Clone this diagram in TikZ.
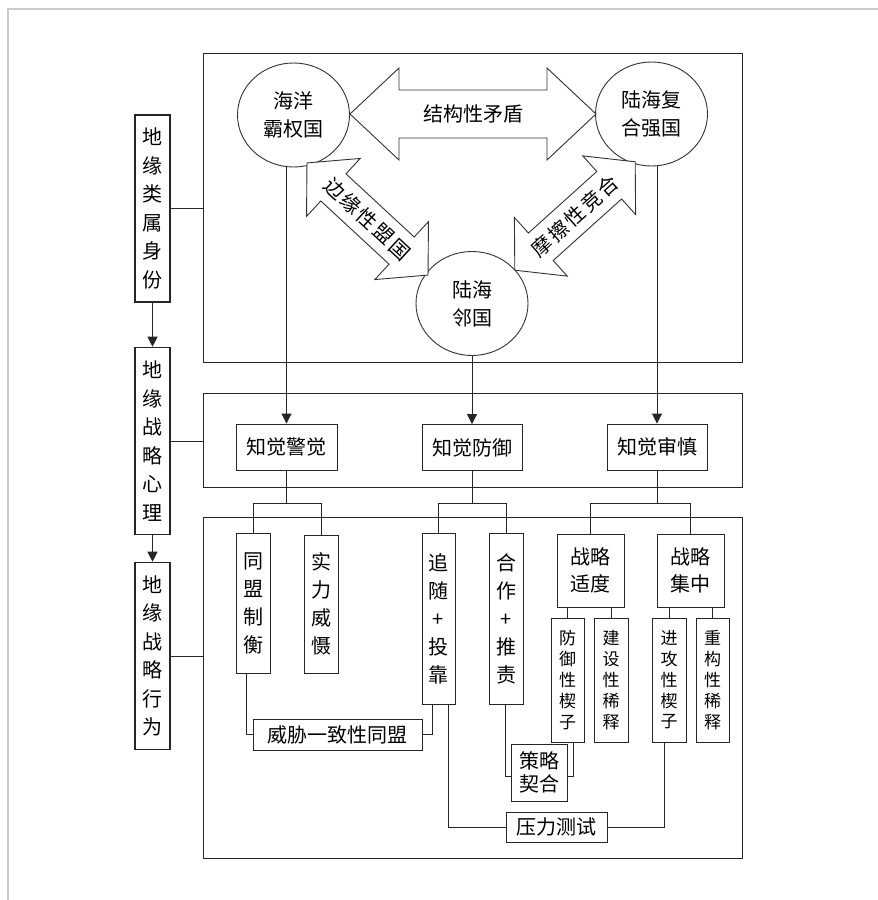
\documentclass[tikz,border=0pt]{standalone}
\usepackage{fontspec}
\setmainfont{Noto Sans CJK SC}
\usetikzlibrary{arrows.meta,shapes.geometric}
\newcommand\dblarr[9]{%
  \begin{scope}[shift={(#1,#2)},rotate=#3]
    \draw[arrshape] (-#4/2,0) -- (-#4/2+#7,#5/2) -- (-#4/2+#7,#6/2) -- (#4/2-#7,#6/2) -- (#4/2-#7,#5/2) -- (#4/2,0) -- (#4/2-#7,-#5/2) -- (#4/2-#7,-#6/2) -- (-#4/2+#7,-#6/2) -- (-#4/2+#7,-#5/2) -- cycle;
    \node[rotate=#3] (#9) at (0,0) {#8};
  \end{scope}}
\begin{document}
\begin{tikzpicture}[x=1pt,y=-1pt,
  line width=0.9pt,
  every node/.style={font=\fontsize{20}{28}\selectfont, inner sep=0pt, align=center},
  box/.style={draw=black!85, fill=white, rectangle},
  lbox/.style={box, line width=1.6pt, minimum width=35pt, minimum height=187pt, font=\fontsize{20}{28.5}\selectfont},
  circ/.style={ellipse, draw=black!80, fill=white, minimum width=112pt, minimum height=104pt},
  arrshape/.style={draw=black!80, fill=white, line join=miter},
  conn/.style={draw=black!85},
  arr/.style={conn, -{Triangle[width=10pt,length=10pt]}},
  small/.style={font=\fontsize{17}{20.8}\selectfont}
]
\useasboundingbox (0,0) rectangle (878,900);
\fill[white] (0,0) rectangle (878,900);
\draw[gray!40, line width=2pt] (7.5,900) -- (7.5,8.5) -- (878,8.5);

% containers
\node[box, minimum width=539pt, minimum height=309pt] (topbox) at (472.5,207.5) {};
\node[box, minimum width=539pt, minimum height=94pt] (midbox) at (472.5,440) {};
\node[box, minimum width=539pt, minimum height=341pt] (lowbox) at (472.5,687.5) {};

% left column
\node[lbox] (l1) at (152.5,208.5) {地\\缘\\类\\属\\身\\份};
\node[lbox] (l2) at (152.5,441) {地\\缘\\战\\略\\心\\理};
\node[lbox] (l3) at (152.5,656) {地\\缘\\战\\略\\行\\为};
\draw[arr] (l1.south) -- (l2.north);
\draw[arr] (l2.south) -- (l3.north);
\draw[conn] (l1.east) -- (l1.east -| topbox.west);
\draw[conn] (l2.east) -- (l2.east -| midbox.west);
\draw[conn] (l3.east) -- (l3.east -| lowbox.west);

% top: states
\node[circ] (sea) at (293.5,115) {海洋\\霸权国};
\node[circ] (land) at (651.5,114) {陆海复\\合强国};
\node[circ] (nb) at (472,303.5) {陆海\\邻国};
\dblarr{473}{114}{0}{246}{92}{48}{49}{结构性矛盾}{conflict}
\dblarr{367.5}{219}{-42.8}{165}{79}{37}{36}{\addfontfeature{LetterSpace=12}边缘性盟国}{margin}
\dblarr{575}{216}{42}{162}{79}{37}{35}{\addfontfeature{LetterSpace=12}摩擦性竞合}{friction}

% middle: perception
\node[box, minimum width=101pt, minimum height=46pt] (kj) at (286.5,447) {知觉警觉};
\node[box, minimum width=100pt, minimum height=46pt] (kf) at (472,447.5) {知觉防御};
\node[box, minimum width=100pt, minimum height=46pt] (ks) at (657,447) {知觉审慎};
\draw[arr] (sea.south -| kj.north) -- (kj.north);
\draw[arr] (nb.south) -- (kf.north);
\draw[arr] (land.south -| ks.north) -- (ks.north);

% lower: behaviour
\node[box, minimum width=34pt, minimum height=140pt] (tm) at (253,603) {同\\盟\\制\\衡};
\node[box, minimum width=34pt, minimum height=138pt] (sl) at (321,604) {实\\力\\威\\慑};
\node[box, minimum width=33pt, minimum height=171pt] (zs) at (438.5,618.5) {追\\随\\+\\投\\靠};
\node[box, minimum width=34pt, minimum height=171pt] (hz) at (506,618.5) {合\\作\\+\\推\\责};
\node[box, minimum width=67pt, minimum height=73pt, font=\fontsize{20}{27}\selectfont] (sd) at (590.5,570.5) {战略\\适度};
\node[box, minimum width=67pt, minimum height=73pt, font=\fontsize{20}{27}\selectfont] (jz) at (690.5,570.5) {战略\\集中};
\node[box, small, minimum width=33pt, minimum height=124pt] (fy) at (567.5,680) {防\\御\\性\\楔\\子};
\node[box, small, minimum width=34pt, minimum height=124pt] (js) at (611,680) {建\\设\\性\\稀\\释};
\node[box, small, minimum width=34pt, minimum height=124pt] (jg) at (669,680) {进\\攻\\性\\楔\\子};
\node[box, small, minimum width=33pt, minimum height=124pt] (cg) at (712.5,680) {重\\构\\性\\稀\\释};
\node[box, minimum width=169pt, minimum height=31pt] (wx) at (337.5,734.5) {威胁一致性同盟};
\node[box, minimum width=101pt, minimum height=30pt] (yl) at (556.5,827) {压力测试};
\node[box, minimum width=56pt, minimum height=57pt, font=\fontsize{20}{23}\selectfont] (cl) at (539,772.5) {策略\\契合};

% brackets
\coordinate (b) at (0,503);
\draw[conn] (kj.south) -- (kj.south |- b);
\draw[conn] (tm.north) |- (sl.north |- b) -- (sl.north);
\draw[conn] (kf.south) -- (kf.south |- b);
\draw[conn] (zs.north) |- (hz.north |- b) -- (hz.north);
\draw[conn] (ks.south) -- (ks.south |- b);
\draw[conn] (sd.north) |- (jz.north |- b) -- (jz.north);

\draw[conn] (sd.south -| fy.north) -- (fy.north);
\draw[conn] (sd.south -| js.north) -- (js.north);
\draw[conn] (jz.south -| jg.north) -- (jg.north);
\draw[conn] (jz.south -| cg.north) -- (cg.north);

\draw[conn] ([xshift=-7pt]tm.south) |- (wx.west);
\draw[conn] ([xshift=-6.5pt]zs.south) |- (wx.east);
\draw[conn] ([xshift=9.5pt]zs.south) |- (yl.west);
\draw[conn] ([xshift=-5pt]jg.south) |- (yl.east);
\draw[conn] ([xshift=-1pt]hz.south) |- ([yshift=-3.5pt]cl.west);
\draw[conn] ([xshift=5.5pt]fy.south) |- ([yshift=-3.5pt]cl.east);
\end{tikzpicture}
\end{document}
